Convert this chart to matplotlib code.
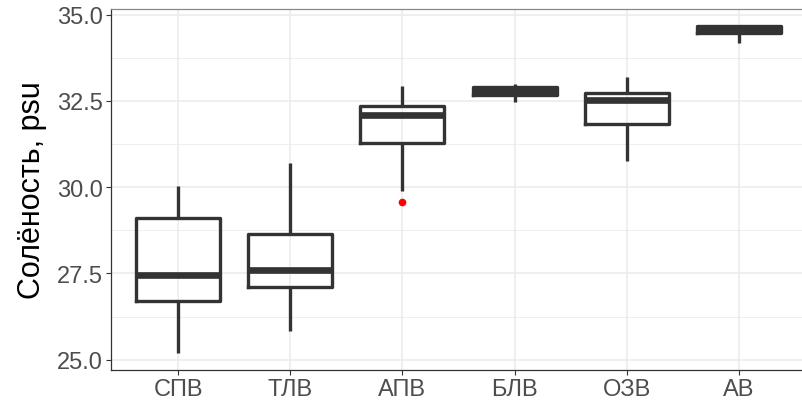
import matplotlib
matplotlib.use("Agg")
import matplotlib.pyplot as plt
from matplotlib.ticker import MultipleLocator

plt.rcParams['font.family'] = ['Liberation Sans', 'DejaVu Sans']

# Water masses and salinity summary statistics (psu)
categories = ["СПВ", "ТЛВ", "АПВ", "БЛВ", "ОЗВ", "АВ"]
whisker_low = [25.19, 25.83, 29.89, 32.47, 30.77, 34.17]
q1 = [26.70, 27.11, 31.28, 32.68, 31.82, 34.46]
median = [27.44, 27.60, 32.10, 32.78, 32.53, 34.57]
q3 = [29.10, 28.63, 32.35, 32.90, 32.72, 34.68]
whisker_high = [30.04, 30.71, 32.92, 33.00, 33.20, 34.68]
outliers = [[], [], [29.58], [], [], []]

y_ticks = [25.0, 27.5, 30.0, 32.5, 35.0]

stats = []
for i, name in enumerate(categories):
    stats.append(dict(label=name, whislo=whisker_low[i], q1=q1[i], med=median[i],
                      q3=q3[i], whishi=whisker_high[i], fliers=outliers[i]))

W, H = 803, 406
fig = plt.figure(figsize=(W / 100, H / 100), dpi=100)
ax = fig.add_axes([111 / W, 35 / H, (806 - 111) / W, (371 - 10) / H])

line_col = "#333333"
lw = 2.4
positions = list(range(1, len(categories) + 1))
ax.bxp(stats, positions=positions, widths=0.75, showcaps=False,
       boxprops=dict(color=line_col, linewidth=lw),
       whiskerprops=dict(color=line_col, linewidth=lw, solid_capstyle='butt'),
       medianprops=dict(color=line_col, linewidth=lw * 2.0, solid_capstyle='butt'),
       flierprops=dict(marker='o', markerfacecolor='red', markeredgecolor='red',
                       markersize=4.5, linestyle='none'),
       zorder=3)

ax.set_xlim(0.4, 6.6)
ax.set_ylim(24.70, 35.16)
ax.set_xticks(positions)
ax.set_xticklabels(categories)
ax.yaxis.set_major_locator(MultipleLocator(2.5))
ax.yaxis.set_minor_locator(MultipleLocator(1.25))
ax.set_yticks(y_ticks)
ax.set_yticklabels([f"{v:.1f}" for v in y_ticks])

grid_col = "#EBEBEB"
ax.grid(True, which='major', color=grid_col, linewidth=1.1, zorder=0)
ax.grid(True, which='minor', axis='y', color=grid_col, linewidth=0.55, zorder=0)
ax.set_axisbelow(True)

ax.tick_params(axis='both', which='major', length=3.5, width=0.8, color=line_col,
               labelsize=17, labelcolor="#4D4D4D", pad=2.5)
ax.tick_params(axis='y', which='minor', length=0)
ax.tick_params(axis='x', which='minor', length=0)
ax.spines['left'].set_color(line_col)
ax.spines['bottom'].set_color(line_col)
ax.spines['left'].set_linewidth(0.9)
ax.spines['bottom'].set_linewidth(0.9)
ax.spines['top'].set_color("#888888")
ax.spines['top'].set_linewidth(0.9)
ax.spines['right'].set_visible(False)

ax.set_ylabel("Солёность, psu", fontsize=22, color="black", labelpad=7)

fig.savefig("out.png", dpi=100, facecolor="white")
